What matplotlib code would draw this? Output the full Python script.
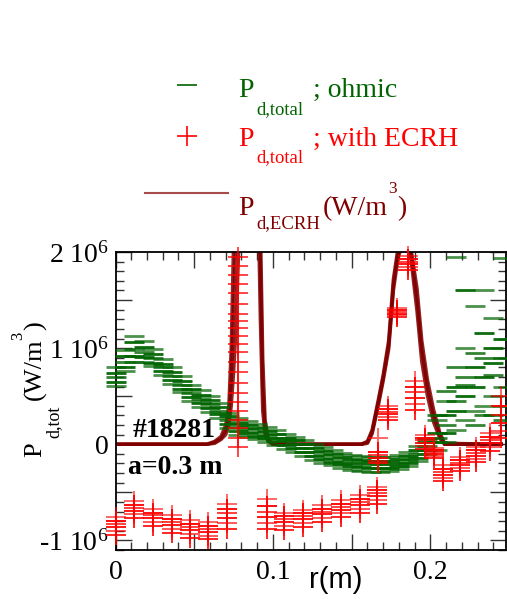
import matplotlib
matplotlib.use('Agg')
import matplotlib.pyplot as plt
from matplotlib.ticker import MultipleLocator, FuncFormatter
from matplotlib.lines import Line2D

plt.rcParams['font.family'] = 'Liberation Serif'
plt.rcParams['mathtext.fontset'] = 'custom'
plt.rcParams['mathtext.rm'] = 'Liberation Serif'
plt.rcParams['mathtext.it'] = 'Liberation Serif:italic'

GREEN = '#006400'
RED = '#ff0000'
DARK = '#800000'
nan = float('nan')

# P_d,total (1e6 W/m^3), ohmic, time slices
r_ohm = [0.000, 0.006, 0.012, 0.018, 0.024, 0.030, 0.036, 0.042, 0.048, 0.054,
         0.060, 0.066, 0.072, 0.078, 0.084, 0.090, 0.096, 0.102, 0.108, 0.114,
         0.120, 0.126, 0.132, 0.138, 0.144, 0.150, 0.156, 0.162, 0.168, 0.174,
         0.180, 0.186, 0.192, 0.198, 0.204, 0.210, 0.216, 0.222, 0.228, 0.234,
         0.240, 0.246]
p_ohm_1 = [0.80, 0.98, 1.13, 1.07, 0.99, 0.89, 0.80, 0.71, 0.62, 0.56,
           0.50, 0.43, 0.33, 0.27, 0.24, 0.21, 0.18, 0.15, 0.11, 0.08,
           0.04, 0.00, -0.03, -0.06, -0.09, -0.11, -0.12, -0.13, -0.13, -0.13,
           -0.11, -0.08, -0.02, 0.06, 0.25, 0.45, 1.95, 1.00, 1.44, 1.60,
           1.31, 1.94]
p_ohm_2 = [0.74, 0.92, 1.06, 1.01, 0.94, 0.84, 0.75, 0.66, 0.57, 0.51,
           0.46, 0.39, 0.29, 0.22, 0.20, 0.17, 0.14, 0.11, 0.07, 0.04,
           0.00, -0.04, -0.07, -0.10, -0.13, -0.15, -0.16, -0.17, -0.17, -0.17,
           -0.15, -0.12, -0.06, 0.02, 0.12, 0.30, 0.60, 1.60, 0.80, 1.16,
           1.00, 1.10]
p_ohm_3 = [0.70, 0.86, 0.99, 0.96, 0.90, 0.80, 0.71, 0.62, 0.53, 0.47,
           0.42, 0.35, 0.25, 0.18, 0.16, 0.13, 0.10, 0.07, 0.03, 0.00,
           -0.04, -0.08, -0.11, -0.14, -0.17, -0.19, -0.20, -0.21, -0.21, -0.21,
           -0.19, -0.16, -0.10, -0.02, 0.06, 0.20, 0.45, 0.70, 0.95, 0.30,
           0.72, 0.40]
p_ohm_4 = [0.65, 0.80, 0.92, 0.91, 0.85, 0.76, 0.67, 0.58, 0.49, 0.43,
           0.38, 0.31, 0.21, 0.14, 0.12, 0.09, 0.06, 0.03, -0.01, -0.04,
           -0.08, -0.12, -0.15, -0.18, -0.21, -0.23, -0.24, -0.25, -0.25, -0.25,
           -0.23, -0.20, -0.14, -0.06, 0.02, 0.12, 0.35, 0.50, 0.60, 0.70,
           0.85, 0.90]
p_ohm_5 = [0.61, 0.76, 0.86, 0.86, 0.81, 0.72, 0.63, 0.54, 0.45, 0.39,
           0.34, 0.27, 0.17, 0.10, 0.08, 0.05, 0.02, -0.01, -0.05, -0.08,
           -0.12, -0.16, -0.19, -0.22, -0.25, -0.27, -0.28, -0.29, -0.29, -0.28,
           -0.26, -0.23, -0.17, -0.10, -0.06, 0.02, 0.15, 0.25, 0.35, 0.40,
           0.50, 0.60]
p_ohm_6 = [nan] * 33 + [0.05, 0.30, 0.55, 0.80, 0.62, 0.20, 0.90, 0.30, 0.25]

# P_d,total (1e6 W/m^3) with ECRH, six time slices
r_ecrh_in = [0.000, 0.012, 0.024, 0.036, 0.047, 0.059, 0.071,
             0.096, 0.107, 0.119, 0.131, 0.143, 0.155, 0.166]
p_ecrh_in_1 = [-0.76, -0.59, -0.67, -0.74, -0.79, -0.81, -0.62, -0.57, -0.71, -0.68, -0.63, -0.58, -0.53, -0.44]
p_ecrh_in_2 = [-0.80, -0.63, -0.71, -0.78, -0.83, -0.85, -0.67, -0.64, -0.75, -0.72, -0.67, -0.62, -0.57, -0.48]
p_ecrh_in_3 = [-0.83, -0.66, -0.74, -0.81, -0.86, -0.88, -0.72, -0.70, -0.78, -0.75, -0.70, -0.65, -0.60, -0.51]
p_ecrh_in_4 = [-0.86, -0.69, -0.77, -0.84, -0.89, -0.91, -0.77, -0.76, -0.81, -0.78, -0.73, -0.68, -0.63, -0.54]
p_ecrh_in_5 = [-0.90, -0.73, -0.81, -0.88, -0.93, -0.95, -0.82, -0.82, -0.85, -0.82, -0.77, -0.72, -0.67, -0.58]
p_ecrh_in_6 = [-0.94, -0.77, -0.85, -0.92, -0.97, -0.99, -0.88, -0.88, -0.89, -0.86, -0.81, -0.76, -0.71, -0.62]

r_ecrh_out = [0.167, 0.173, 0.179, 0.1855, 0.1905, 0.1965, 0.2025, 0.208,
              0.219, 0.229, 0.238, 0.245]
p_ecrh_out_1 = [0.07, 0.40, 1.42, 1.96, 0.66, 0.10, -0.04, -0.22, -0.13, -0.03, 0.12, 0.50]
p_ecrh_out_2 = [-0.08, 0.37, 1.40, 1.93, 0.60, 0.07, -0.06, -0.26, -0.16, -0.06, 0.08, 0.40]
p_ecrh_out_3 = [-0.11, 0.34, 1.38, 1.90, 0.54, 0.04, -0.08, -0.29, -0.19, -0.09, 0.04, 0.30]
p_ecrh_out_4 = [-0.14, 0.31, 1.36, 1.87, 0.48, 0.01, -0.10, -0.32, -0.22, -0.12, 0.01, 0.22]
p_ecrh_out_5 = [-0.17, 0.28, 1.34, 1.84, 0.42, -0.02, -0.12, -0.35, -0.25, -0.15, -0.03, 0.14]
p_ecrh_out_6 = [-0.20, 0.25, 1.32, 1.81, 0.36, -0.05, -0.14, -0.38, -0.28, -0.18, -0.07, 0.06]

# column of points at the first resonance
r_ecrh_col = 0.0775
p_ecrh_col = [-0.03, 0.07, 0.17, 0.25, 0.35, 0.44, 0.53, 0.64, 0.75, 0.86, 0.96,
              1.04, 1.13, 1.21, 1.28, 1.36, 1.46, 1.57, 1.67, 1.76, 1.85, 1.95]

# P_d,ECRH deposition profile (1e6 W/m^3), three slices
r_dep = [0.000, 0.058, 0.063, 0.067, 0.070, 0.072, 0.0735, 0.075, 0.0765, 0.080,
         0.086, 0.0905, 0.092, 0.0935, 0.095, 0.097, 0.100, 0.150, 0.156, 0.160,
         0.163, 0.167, 0.170, 0.1735, 0.1765, 0.1795, 0.183, 0.187, 0.1915, 0.1945,
         0.198, 0.202, 0.206, 0.209, 0.245]
p_dep_1 = [0, 0, 0.02, 0.06, 0.14, 0.28, 0.65, 1.40, 2.20, 3.00,
           3.20, 2.60, 1.30, 0.35, 0.10, 0.03, 0, 0, 0, 0.02,
           0.13, 0.44, 0.69, 1.03, 1.66, 2.00, 2.15, 2.02, 1.38, 0.86,
           0.51, 0.23, 0.06, 0, 0]
p_dep_2 = [0, 0, 0.03, 0.08, 0.20, 0.40, 1.00, 2.10, 2.80, 3.10,
           3.30, 2.80, 1.90, 0.60, 0.15, 0.04, 0, 0, 0, 0.03,
           0.15, 0.47, 0.72, 1.08, 1.72, 2.05, 2.20, 2.08, 1.50, 0.98,
           0.60, 0.30, 0.09, 0, 0]
p_dep_3 = [0, 0, 0.01, 0.05, 0.10, 0.20, 0.40, 0.75, 1.20, 2.90,
           3.10, 3.00, 2.30, 0.90, 0.25, 0.06, 0, 0, 0, 0.01,
           0.11, 0.41, 0.66, 0.99, 1.60, 1.95, 2.10, 2.10, 1.62, 1.08,
           0.68, 0.36, 0.12, 0.01, 0]

W, H = 507, 599


def fx(x):
    return x / W


def fy(y):
    return 1 - y / H


fig = plt.figure(figsize=(W / 100, H / 100), dpi=100)
ax = fig.add_axes([115.5 / W, 49 / H, 390.5 / W, 298 / H])

for p in (p_dep_1, p_dep_2, p_dep_3):
    ax.plot(r_dep, p, color=DARK, lw=2.5, alpha=0.85, zorder=2)

ohm = (p_ohm_1, p_ohm_2, p_ohm_3, p_ohm_4, p_ohm_5, p_ohm_6)
for p, a in zip(ohm, (0.7, 0.95, 0.8, 0.95, 0.7, 0.8)):
    ax.plot(r_ohm, p, ls='none', marker='_', ms=14.4, mew=2.0, color=GREEN,
            alpha=a, clip_on=False, zorder=3)

alphas = (0.6, 0.95, 0.75, 0.9, 0.65, 0.85)
ecrh_in = (p_ecrh_in_1, p_ecrh_in_2, p_ecrh_in_3, p_ecrh_in_4, p_ecrh_in_5, p_ecrh_in_6)
ecrh_out = (p_ecrh_out_1, p_ecrh_out_2, p_ecrh_out_3, p_ecrh_out_4, p_ecrh_out_5, p_ecrh_out_6)
for p, a in zip(ecrh_in, alphas):
    ax.plot(r_ecrh_in, p, ls='none', marker='+', ms=14.4, mew=1.4, color=RED,
            alpha=a, clip_on=False, zorder=4)
for p, a in zip(ecrh_out, alphas):
    ax.plot(r_ecrh_out, p, ls='none', marker='+', ms=14.4, mew=1.4, color=RED,
            alpha=a, clip_on=False, zorder=4)
ax.plot([r_ecrh_col] * len(p_ecrh_col), p_ecrh_col, ls='none', marker='+', ms=14.4,
        mew=1.2, color=RED, alpha=0.85, clip_on=False, zorder=4)

ax.set_xlim(0, 0.248)
ax.set_ylim(-1.1, 2.0)

ax.xaxis.set_major_locator(MultipleLocator(0.05))
ax.xaxis.set_minor_locator(MultipleLocator(0.01))
ax.yaxis.set_major_locator(MultipleLocator(0.5))
ax.yaxis.set_minor_locator(MultipleLocator(0.1))


def xfmt(v, pos):
    k = round(v * 10)
    if abs(v * 10 - k) > 1e-6:
        return ''
    return '0' if k == 0 else '%.1f' % v


def yfmt(v, pos):
    k = round(v)
    if abs(v - k) > 1e-6:
        return ''
    return '0' if k == 0 else '%d 10$^{\\rm 6}$' % k


ax.xaxis.set_major_formatter(FuncFormatter(xfmt))
ax.yaxis.set_major_formatter(FuncFormatter(yfmt))
ax.tick_params(which='both', direction='in', top=True, right=True, width=1.0,
               color='#333333', labelsize=20)
ax.tick_params(which='major', length=11.5)
ax.tick_params(which='minor', length=5.8)
ax.tick_params(axis='x', pad=7)
ax.tick_params(axis='y', pad=5)
for s in ax.spines.values():
    s.set_linewidth(1.3)

ax.text(0.045, 0.379, '#18281', transform=ax.transAxes, fontsize=20,
        fontweight='bold', zorder=6)
ax.text(0.032, 0.255, 'a=0.3 m', transform=ax.transAxes, fontsize=20,
        fontweight='bold', zorder=6)

# legend above the axes
fig.add_artist(Line2D([fx(187)], [fy(85)], ls='none', marker='_', ms=14.4, mew=1.2,
                      color=GREEN, transform=fig.transFigure))
fig.add_artist(Line2D([fx(187)], [fy(136)], ls='none', marker='+', ms=14.4, mew=1.2,
                      color=RED, transform=fig.transFigure))
fig.add_artist(Line2D([fx(145), fx(228)], [fy(193), fy(193)], lw=1.5, color=DARK,
                      alpha=0.7, transform=fig.transFigure))

rows = [(96.7, 114, 'd,total', '; ohmic', GREEN),
        (146, 161.7, 'd,total', '; with ECRH', RED),
        (215, 228, 'd,ECRH', None, DARK)]
for base, sub_base, sub, tail, c in rows:
    fig.text(fx(238), fy(base), 'P', fontsize=20, color=c, va='baseline')
    fig.text(fx(256), fy(sub_base), sub, fontsize=13.5, color=c, va='baseline')
    if tail:
        fig.text(fx(313), fy(base), tail, fontsize=20, color=c, va='baseline')
fig.text(fx(322.7), fy(215), '(W/m', fontsize=20, color=DARK, va='baseline')
fig.text(fx(388), fy(193), '3', fontsize=12.5, color=DARK, va='baseline')
fig.text(fx(396.7), fy(215), ')', fontsize=20, color=DARK, va='baseline')

# y label
ylab = [(41.7, 457, 'P', 19), (58, 438, 'd,tot', 13), (41.7, 400, '(W/m', 19),
        (22, 340, '3', 12), (41.7, 330, ')', 19)]
for x, y, s, fs in ylab:
    fig.text(fx(x), fy(y), s, fontsize=fs, rotation=90, rotation_mode='anchor',
             ha='left', va='baseline')

fig.text(fx(336), fy(588), 'r(m)', fontsize=21, family='Liberation Sans',
         ha='center', va='baseline')

fig.savefig('out.png', dpi=100)
